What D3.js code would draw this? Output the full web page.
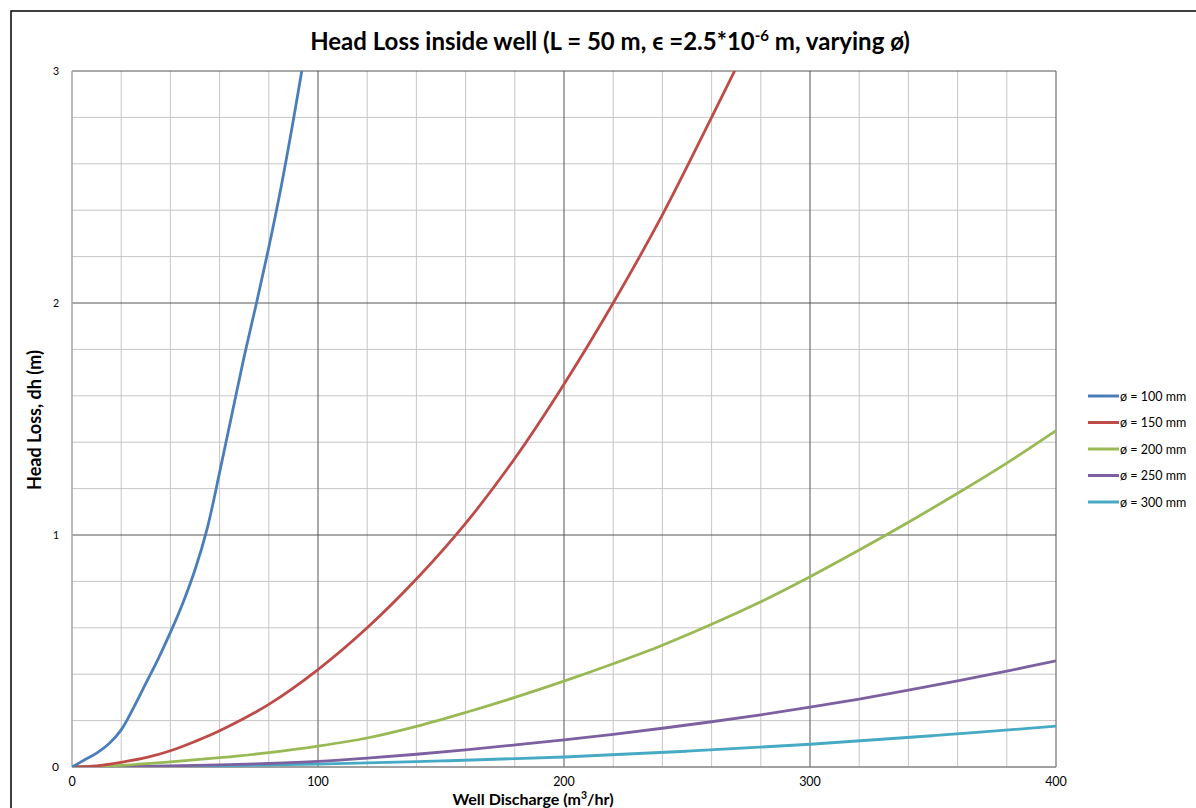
<!DOCTYPE html>
<html>
<head>
<meta charset="utf-8">
<script src="https://cdn.jsdelivr.net/npm/d3@7"></script>
<style>
  body { margin: 0; background: #fff; }
  svg { display: block; font-family: Lato, "Open Sans", sans-serif; }
</style>
</head>
<body>
<div id="chart"></div>
<script>
// discharge Q (m3/hr) and head loss dh (m)
let q100 = [0, 5, 10, 15, 20, 25, 30, 35, 40, 45, 50, 55, 60, 65, 70, 75, 80, 85, 90, 95]
let h100 = [0, 0.03, 0.06, 0.1, 0.16, 0.255, 0.36, 0.465, 0.58, 0.705, 0.85, 1.03, 1.27, 1.52, 1.77, 2.0, 2.24, 2.5, 2.79, 3.1]

let q150 = [0, 10, 20, 30, 40, 50, 60, 80, 100, 120, 140, 160, 180, 200, 220, 240, 260, 280]
let h150 = [0, 0.005, 0.02, 0.04, 0.07, 0.11, 0.156, 0.27, 0.42, 0.6, 0.81, 1.05, 1.33, 1.65, 2.0, 2.38, 2.8, 3.23]

let q200 = [0, 20, 40, 60, 80, 100, 120, 140, 160, 180, 200, 220, 240, 260, 280, 300, 320, 340, 360, 380, 400]
let h200 = [0, 0.007, 0.022, 0.04, 0.062, 0.09, 0.125, 0.175, 0.235, 0.3, 0.37, 0.445, 0.525, 0.615, 0.712, 0.82, 0.935, 1.055, 1.18, 1.31, 1.45]

let q250 = [0, 20, 40, 60, 80, 100, 120, 140, 160, 180, 200, 220, 240, 260, 280, 300, 320, 340, 360, 380, 400]
let h250 = [0, 0.002, 0.005, 0.009, 0.015, 0.024, 0.038, 0.055, 0.074, 0.095, 0.117, 0.141, 0.167, 0.195, 0.225, 0.258, 0.293, 0.331, 0.371, 0.413, 0.458]

let q300 = [0, 50, 100, 150, 200, 250, 300, 350, 400]
let h300 = [0, 0.004, 0.012, 0.026, 0.043, 0.068, 0.098, 0.135, 0.176]

let seriesNames = ['ø = 100 mm', 'ø = 150 mm', 'ø = 200 mm', 'ø = 250 mm', 'ø = 300 mm']
let xTicks = [0, 100, 200, 300, 400]
let yTicks = [0, 1, 2, 3]

let colors = ['#4a7ebb', '#be4b48', '#98b954', '#7d60a0', '#46aac5']

let series = [
  [q100, h100], [q150, h150], [q200, h200], [q250, h250], [q300, h300]
].map(([q, h], i) => ({
  name: seriesNames[i],
  values: q.map((d, j) => ({ q: d, h: h[j] }))
}))

let width = 1196
let height = 808
let margin = { top: 71, left: 72, right: 1196 - 1056, bottom: 808 - 767 }

let svg = d3
  .select('#chart')
  .append('svg')
  .attr('width', width)
  .attr('height', height)

// outer frame of the chart
svg
  .append('rect')
  .attr('x', 11)
  .attr('y', 11)
  .attr('width', width)
  .attr('height', height)
  .attr('fill', 'none')
  .attr('stroke', '#000')
  .attr('stroke-width', 1.5)

let x = d3.scaleLinear().domain([0, 400]).range([margin.left, width - margin.right])
let y = d3.scaleLinear().domain([0, 3]).range([height - margin.bottom, margin.top])

// minor grid
let g = svg.append('g')
g.selectAll('.vminor')
  .data(d3.range(0, 401, 20).filter(d => d % 100 !== 0))
  .enter()
  .append('line')
  .attr('x1', d => x(d)).attr('x2', d => x(d))
  .attr('y1', y(0)).attr('y2', y(3))
  .attr('stroke', '#c6c6c6')
g.selectAll('.hminor')
  .data(d3.range(1, 15).map(d => d * 0.2).filter(d => Math.abs(d - Math.round(d)) > 0.01))
  .enter()
  .append('line')
  .attr('x1', x(0)).attr('x2', x(400))
  .attr('y1', d => y(d)).attr('y2', d => y(d))
  .attr('stroke', '#c6c6c6')

// major grid
g.selectAll('.vmajor')
  .data(xTicks.slice(1))
  .enter()
  .append('line')
  .attr('x1', d => x(d)).attr('x2', d => x(d))
  .attr('y1', y(0)).attr('y2', y(3))
  .attr('stroke', '#555')
g.selectAll('.hmajor')
  .data(yTicks.slice(1))
  .enter()
  .append('line')
  .attr('x1', x(0)).attr('x2', x(400))
  .attr('y1', d => y(d)).attr('y2', d => y(d))
  .attr('stroke', '#555')

// axes lines
svg.append('line')
  .attr('x1', x(0)).attr('x2', x(0))
  .attr('y1', y(0)).attr('y2', y(3))
  .attr('stroke', '#a6a6a6').attr('stroke-width', 1.5)
svg.append('line')
  .attr('x1', x(0)).attr('x2', x(400))
  .attr('y1', y(0)).attr('y2', y(0))
  .attr('stroke', '#808080').attr('stroke-width', 1.5)

// tick labels
svg.selectAll('.xlab')
  .data(xTicks)
  .enter()
  .append('text')
  .attr('x', d => x(d))
  .attr('y', y(0) + 19)
  .attr('text-anchor', 'middle')
  .attr('font-size', 12.5)
  .text(d => d)
svg.selectAll('.ylab')
  .data(yTicks)
  .enter()
  .append('text')
  .attr('x', x(0) - 13)
  .attr('y', d => y(d) + 4)
  .attr('text-anchor', 'end')
  .attr('font-size', d => (d === 0 ? 12 : 10.5))
  .text(d => d)

// curves
svg.append('clipPath').attr('id', 'clip')
  .append('rect')
  .attr('x', x(0)).attr('y', y(3))
  .attr('width', x(400) - x(0)).attr('height', y(0) - y(3))

let line = d3.line()
  .x(d => x(d.q))
  .y(d => y(d.h))
  .curve(d3.curveCatmullRom)

svg.append('g')
  .attr('clip-path', 'url(#clip)')
  .selectAll('.curve')
  .data(series.slice().reverse())
  .enter()
  .append('path')
  .attr('d', d => line(d.values))
  .attr('fill', 'none')
  .attr('stroke', d => colors[seriesNames.indexOf(d.name)])
  .attr('stroke-width', 2.8)
  .attr('stroke-linecap', 'round')

// legend
let legend = svg.selectAll('.legend')
  .data(series)
  .enter()
  .append('g')
  .attr('transform', (d, i) => 'translate(1088,' + (396 + i * 26.5) + ')')
legend.append('line')
  .attr('x1', 0).attr('x2', 31)
  .attr('stroke', (d, i) => colors[i])
  .attr('stroke-width', 3)
legend.append('text')
  .attr('x', 32)
  .attr('y', 4.5)
  .attr('font-size', 12.5)
  .text(d => d.name)

// title
let title = svg.append('text')
  .attr('x', 610)
  .attr('y', 50)
  .attr('text-anchor', 'middle')
  .attr('font-size', 24)
  .attr('font-weight', 'bold')
title.append('tspan').text('Head Loss inside well (L = 50 m, ϵ =2.5*10')
title.append('tspan').attr('font-size', 15).attr('dy', -9).text('-6')
title.append('tspan').attr('dy', 9).text(' m, varying ø)')

// axis titles
let xt = svg.append('text')
  .attr('x', 533)
  .attr('y', 805)
  .attr('text-anchor', 'middle')
  .attr('font-size', 16)
  .attr('font-weight', 'bold')
xt.append('tspan').text('Well Discharge (m')
xt.append('tspan').attr('font-size', 10.5).attr('dy', -6).text('3')
xt.append('tspan').attr('dy', 6).text('/hr)')

svg.append('text')
  .attr('transform', 'translate(41,420) rotate(-90)')
  .attr('text-anchor', 'middle')
  .attr('font-size', 18)
  .attr('font-weight', 'bold')
  .text('Head Loss, dh (m)')
</script>
</body>
</html>
